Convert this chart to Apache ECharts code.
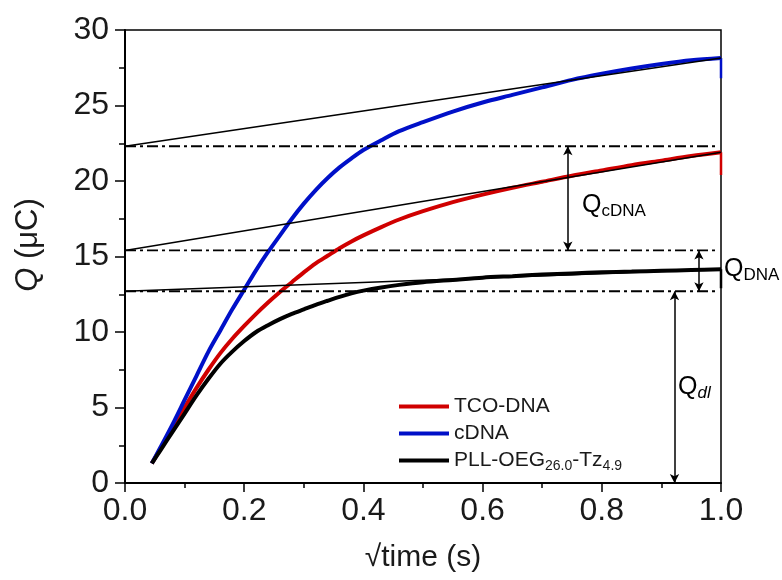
<!DOCTYPE html>
<html>
<head>
<meta charset="utf-8">
<script src="https://cdn.jsdelivr.net/npm/echarts@6/dist/echarts.min.js"></script>
<style>
  html, body { margin: 0; padding: 0; background: #fff; }
  #chart { width: 782px; height: 580px; }
</style>
</head>
<body>
<div id="chart"></div>
<script>
// sqrt(time) samples, shared by the three transients
const sqrtTime = [0.045, 0.06, 0.08, 0.10, 0.12, 0.14, 0.16, 0.18, 0.20, 0.22, 0.24, 0.26, 0.28, 0.30, 0.32,
  0.34, 0.36, 0.38, 0.40, 0.43, 0.46, 0.50, 0.55, 0.60, 0.65, 0.70, 0.75, 0.80, 0.85, 0.90, 0.95, 1.0];
const qTcoDna = [1.3, 2.3, 3.7, 5.0, 6.3, 7.5, 8.6, 9.55, 10.4, 11.2, 11.95, 12.65, 13.3, 13.95, 14.55,
  15.05, 15.55, 16.0, 16.4, 16.95, 17.45, 18.0, 18.6, 19.1, 19.55, 19.95, 20.35, 20.7, 21.05, 21.35, 21.65, 21.9];
const qCdna = [1.3, 2.4, 3.9, 5.5, 7.1, 8.7, 10.1, 11.5, 12.8, 14.1, 15.3, 16.4, 17.5, 18.5, 19.4,
  20.2, 20.9, 21.5, 22.05, 22.7, 23.3, 23.9, 24.6, 25.2, 25.7, 26.2, 26.7, 27.1, 27.45, 27.75, 28.0, 28.15];
const qPll = [1.3, 2.2, 3.4, 4.6, 5.8, 6.9, 7.9, 8.7, 9.4, 10.0, 10.45, 10.85, 11.2, 11.5, 11.8,
  12.07, 12.33, 12.56, 12.74, 12.95, 13.12, 13.3, 13.45, 13.6, 13.7, 13.8, 13.88, 13.95, 14.0, 14.05, 14.1, 14.15];
// value the last sample falls to at sqrt(time) = 1
const qEndDrop = [20.4, 26.8, 12.9];

// linear fits of the late part (value at 0 and at 1) and the intercept levels
const fitStart = [22.3, 15.4, 12.7];
const fitEnd = [28.15, 21.9, 14.15];
const levelEnd = 0.99;

// double arrows: x position, from, to
const arrowX = [0.743, 0.963, 0.922];
const arrowFrom = [22.3, 15.4, 12.7];
const arrowTo = [15.4, 12.7, 0];

const xTicks = [0, 0.2, 0.4, 0.6, 0.8, 1.0];
const yTicks = [0, 5, 10, 15, 20, 25, 30];

const FONT = 'Liberation Sans, Arial, sans-serif';
const TXT = '#1a1a1a';

const chart = echarts.init(document.getElementById('chart'));

function pairs(ys) {
  return ys.map((y, i) => [sqrtTime[i], y]);
}

const curves = [
  { name: 'TCO-DNA', color: '#d00000', data: qTcoDna },
  { name: 'cDNA', color: '#0010c8', data: qCdna },
  { name: 'PLL-OEG26.0-Tz4.9', color: '#000000', data: qPll },
];

const series = [];
curves.forEach((c, i) => {
  series.push({
    name: c.name,
    type: 'line',
    data: pairs(c.data),
    showSymbol: false,
    symbol: 'none',
    smooth: 0.3,
    color: c.color,
    lineStyle: { width: 4, color: c.color },
    silent: true,
    z: 2,
  });
  const last = c.data.length - 1;
  series.push({
    type: 'line',
    data: [[sqrtTime[last], c.data[last]], [sqrtTime[last], qEndDrop[i]]],
    symbol: 'none',
    lineStyle: { width: 2.5, color: c.color },
    silent: true,
    z: 2,
  });
});

fitStart.forEach((v, i) => {
  series.push({
    type: 'line',
    data: [[0, v], [1, fitEnd[i]]],
    symbol: 'none',
    lineStyle: { width: 1.5, color: '#000' },
    silent: true,
    z: 4,
  });
  series.push({
    type: 'line',
    data: [[0, v], [levelEnd, v]],
    symbol: 'none',
    lineStyle: { width: 1.8, color: '#000', type: [11, 4, 3, 4] },
    silent: true,
    z: 4,
  });
});

series.push({
  type: 'line',
  data: [],
  silent: true,
  markLine: {
    silent: true,
    symbol: ['arrow', 'arrow'],
    symbolSize: [7, 9],
    label: { show: false },
    lineStyle: { color: '#000', width: 1.5, type: 'solid' },
    data: arrowX.map((x, i) => [{ coord: [x, arrowFrom[i]] }, { coord: [x, arrowTo[i]] }]),
  },
  z: 5,
});

const qRich = {
  q: { fontSize: 25, fontFamily: FONT, color: TXT, lineHeight: 30, verticalAlign: 'middle' },
  s: { fontSize: 17, fontFamily: FONT, color: TXT, lineHeight: 17, verticalAlign: 'bottom' },
  si: { fontSize: 17, fontFamily: FONT, color: TXT, lineHeight: 17, verticalAlign: 'bottom', fontStyle: 'italic' },
};

const option = {
  animation: false,
  backgroundColor: '#fff',
  grid: {
    left: 125, right: 61, top: 30, bottom: 97,
    show: true, borderColor: '#000', borderWidth: 1.5,
  },
  legend: {
    data: curves.map((c) => c.name),
    orient: 'vertical',
    left: 399,
    top: 394,
    padding: 0,
    icon: 'rect',
    itemWidth: 50,
    itemHeight: 4,
    itemGap: 2,
    selectedMode: false,
    formatter: (name) => (name.startsWith('PLL') ? 'PLL-OEG{s|26.0}-Tz{s|4.9}' : name),
    textStyle: {
      fontSize: 21, fontFamily: FONT, color: TXT, lineHeight: 25,
      rich: {
        s: { fontSize: 14, fontFamily: FONT, color: TXT, lineHeight: 14, verticalAlign: 'bottom' },
      },
    },
  },
  xAxis: {
    type: 'value',
    min: 0, max: 1, interval: 0.2,
    name: '√time (s)',
    nameLocation: 'middle',
    nameGap: 60,
    nameTextStyle: { fontSize: 30, fontFamily: FONT, color: TXT },
    axisLine: { onZero: false, lineStyle: { color: '#000', width: 2 } },
    axisTick: { inside: false, length: 9, lineStyle: { color: '#000', width: 1.5 } },
    minorTick: { show: true, splitNumber: 2, length: 5, lineStyle: { color: '#000', width: 1.5 } },
    axisLabel: {
      margin: 12, fontSize: 32, fontFamily: FONT, color: TXT,
      formatter: (v) => (xTicks.some((t) => Math.abs(t - v) < 1e-9) ? v.toFixed(1) : ''),
    },
    splitLine: { show: false },
  },
  yAxis: {
    type: 'value',
    min: 0, max: 30, interval: 5,
    axisLine: { show: true, onZero: false, lineStyle: { color: '#000', width: 2 } },
    axisTick: { show: true, inside: false, length: 10, lineStyle: { color: '#000', width: 1.5 } },
    minorTick: { show: true, splitNumber: 2, length: 6, lineStyle: { color: '#000', width: 1.5 } },
    axisLabel: {
      margin: 16, fontSize: 32, fontFamily: FONT, color: TXT,
      formatter: (v) => (yTicks.includes(v) ? String(v) : ''),
    },
    splitLine: { show: false },
  },
  graphic: [
    {
      type: 'text', x: 28, y: 245, rotation: Math.PI / 2,
      style: {
        text: '{i|Q} (μC)', fontSize: 31, fontFamily: FONT, fill: TXT,
        align: 'center', verticalAlign: 'middle',
        rich: { i: { fontSize: 31, fontFamily: FONT, color: TXT, fontStyle: 'italic' } },
      },
    },
    {
      type: 'text', x: 582, y: 190,
      style: { text: '{q|Q}{s|cDNA}', rich: qRich },
    },
    {
      type: 'text', x: 724, y: 254,
      style: { text: '{q|Q}{s|DNA}', rich: qRich },
    },
    {
      type: 'text', x: 678, y: 372,
      style: { text: '{q|Q}{si|dl}', rich: qRich },
    },
  ],
  series,
};

chart.setOption(option);
</script>
</body>
</html>
